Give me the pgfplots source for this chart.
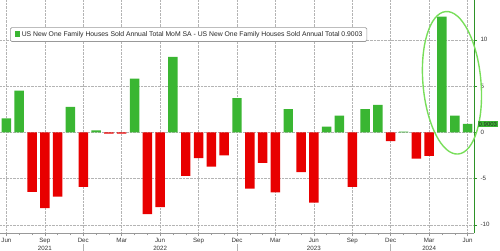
\documentclass[border=0pt]{standalone}
\usepackage{fontspec}
\setmainfont{Liberation Sans}
\usepackage{pgfplots}
\pgfplotsset{compat=1.18}
\definecolor{bgreen}{RGB}{58,182,50}
\definecolor{bred}{RGB}{232,0,0}
\definecolor{egreen}{RGB}{120,222,90}
\definecolor{gridc}{RGB}{180,180,180}
\begin{document}
\begin{tikzpicture}
\begin{axis}[
  at={(0,0)}, anchor=south west,
  scale only axis, width=474bp, height=233.3bp,
  xmin=-0.5, xmax=36.5, ymin=-10.92, ymax=14.3,
  axis x line*=bottom, axis y line*=right,
  axis line style={-},
  x axis line style={gray!80},
  y axis line style={bgreen!80!black},
  clip=false,
  ytick={-10,-5,0,5,10},
  xtick={0,3,...,36},
  xticklabels={Jun,Sep\\2021,Dec,Mar,Jun\\2022,Sep,Dec,Mar,Jun\\2023,Sep,Dec,Mar\\2024,Jun},
  xticklabel style={align=center, inner sep=1.5bp, font=\fontsize{6.2}{8}\selectfont},
  minor x tick num=2,
  tick align=outside, major tick length=3bp, minor tick length=2bp,
  tick style={gray!80, line width=0.5pt},
  ytick style={bgreen!80!black},
  tick label style={font=\fontsize{6.2}{8}\selectfont, text=black!80},
  /pgf/number format/assume math mode=true,
  grid=major, grid style={gridc, densely dotted, line width=0.5pt},
  ybar, bar width=0.74,
]
\addplot[fill=bgreen, draw=none, bar shift=0pt] coordinates {
(0,1.5) (1,4.5) (5,2.75) (7,0.2) (10,5.8) (13,8.15) (18,3.7)
(22,2.5) (25,0.6) (26,1.8) (28,2.5) (29,2.95) (31,0.08)
(34,12.5) (35,1.8) (36,0.9003)};
\addplot[fill=bred, draw=none, bar shift=0pt] coordinates {
(2,-6.45) (3,-8.2) (4,-6.95) (6,-5.9) (8,-0.15) (9,-0.15)
(11,-8.85) (12,-8.1) (14,-4.7) (15,-2.8) (16,-3.7) (17,-2.5)
(19,-6.1) (20,-3.3) (21,-6.5) (23,-4.3) (24,-7.6) (27,-5.9)
(30,-0.95) (32,-2.85) (33,-2.55)};
\draw[gray!60, line width=0.5pt] ([yshift=-11bp]axis cs:6,-10.92) -- ([yshift=-19bp]axis cs:6,-10.92);
\draw[gray!60, line width=0.5pt] ([yshift=-11bp]axis cs:18,-10.92) -- ([yshift=-19bp]axis cs:18,-10.92);
\draw[gray!60, line width=0.5pt] ([yshift=-11bp]axis cs:30,-10.92) -- ([yshift=-19bp]axis cs:30,-10.92);
\draw[egreen, line width=1.4pt, rotate around={5:(axis cs:34.78,5.35)}]
  (axis cs:34.78,5.35) ellipse (29bp and 71.5bp);
\node[anchor=west, fill=bgreen, inner sep=1bp, font=\fontsize{6}{7}\selectfont, text=black!85]
  at ([xshift=3.5bp]axis cs:36.5,0.9003) {0.9003};
\node[anchor=west, draw=gray!80, rounded corners=1.5bp, fill=white,
  inner xsep=4.5bp, inner ysep=3.5bp, line width=0.6pt,
  font=\fontsize{6.85}{8}\selectfont, text=black!85]
  at (rel axis cs:0.0211,0.852)
  {\textcolor{bgreen}{\rule{5.5bp}{5.5bp}}\hspace{1.5bp}US New One Family Houses Sold Annual Total MoM SA - US New One Family Houses Sold Annual Total 0.9003};
\end{axis}
\pgfresetboundingbox
\path[use as bounding box] (0,-17.7bp) rectangle (500bp,233.3bp);
\end{tikzpicture}
\end{document}
